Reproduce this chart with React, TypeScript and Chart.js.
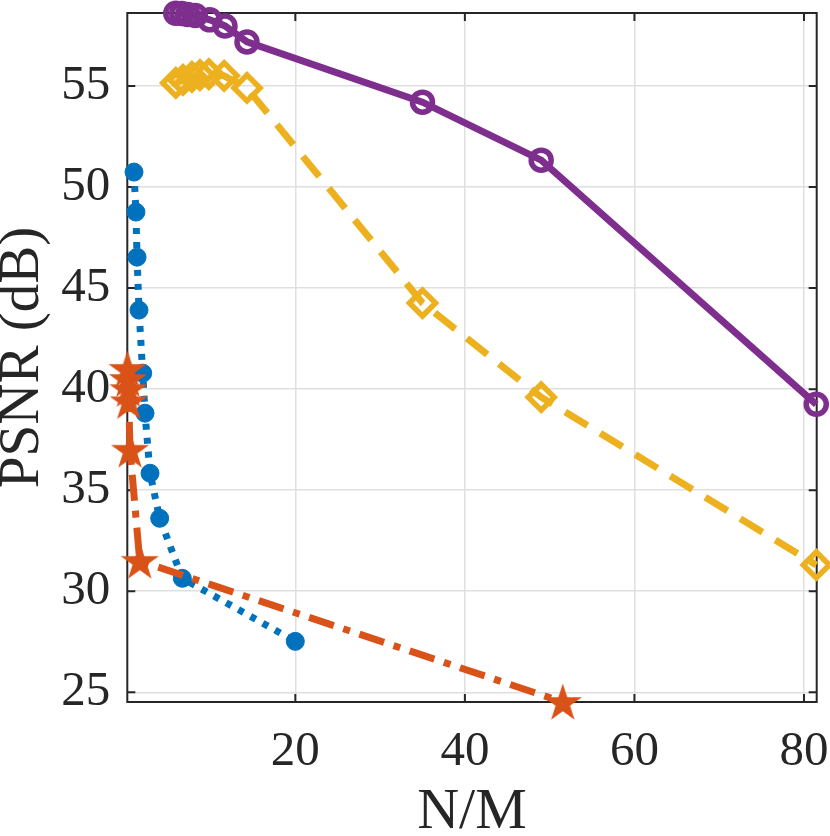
import { useEffect, useRef } from 'react';
import { Chart, registerables, type ChartConfiguration } from 'chart.js';

Chart.register(...registerables);

// axis ticks
const xTicks = [20, 40, 60, 80];
const yTicks = [25, 30, 35, 40, 45, 50, 55];

// purple series (solid, circles)
const purpleX = [5.9, 6.6, 7.3, 8.2, 9.9, 11.7, 14.3, 35.0, 49.0, 81.45];
const purpleY = [58.6, 58.58, 58.54, 58.49, 58.27, 57.97, 57.18, 54.2, 51.33, 39.25];

// yellow series (dashed, diamonds)
const yellowX = [5.9, 6.75, 7.8, 8.75, 9.8, 11.6, 14.3, 35.0, 49.0, 81.45];
const yellowY = [55.15, 55.3, 55.45, 55.54, 55.59, 55.5, 54.9, 44.26, 39.6, 31.3];

// blue series (dotted, filled circles)
const blueX = [0.97, 1.2, 1.33, 1.56, 2.0, 2.27, 2.86, 4.0, 6.67, 20.0];
const blueY = [50.74, 48.76, 46.53, 43.91, 40.79, 38.81, 35.84, 33.61, 30.64, 27.52];

// red series (dash-dot, pentagrams)
const redX = [0.2, 0.25, 0.3, 0.35, 0.5, 1.65, 51.55];
const redY = [41.0, 40.5, 40.0, 39.4, 37.0, 31.5, 24.52];

const FONT = "'Liberation Serif', 'Times New Roman', Times, serif";
const INK = '#262626';
const GRID = '#dfdfdf';

const toPoints = (xs: number[], ys: number[]) => xs.map((x, i) => ({ x, y: ys[i] }));

function pentagram(color: string, r: number) {
  const c = document.createElement('canvas');
  const s = Math.ceil(r * 2 + 2);
  c.width = s;
  c.height = s;
  const ctx = c.getContext('2d')!;
  ctx.fillStyle = color;
  ctx.beginPath();
  for (let i = 0; i < 10; i++) {
    const rad = i % 2 === 0 ? r : r * 0.382;
    const a = -Math.PI / 2 + (i * Math.PI) / 5;
    ctx.lineTo(s / 2 + rad * Math.cos(a), s / 2 + 1.5 + rad * Math.sin(a));
  }
  ctx.closePath();
  ctx.fill();
  return c;
}

// box with inward tick marks, drawn under the data like MATLAB
const frame = {
  id: 'frame',
  beforeDatasetsDraw(chart: Chart) {
    const { ctx, chartArea: a, scales } = chart;
    const len = 8;
    ctx.save();
    ctx.strokeStyle = INK;
    ctx.lineWidth = 2;
    ctx.strokeRect(a.left, a.top, a.right - a.left, a.bottom - a.top);
    ctx.beginPath();
    xTicks.forEach((v) => {
      const px = scales.x.getPixelForValue(v);
      ctx.moveTo(px, a.bottom);
      ctx.lineTo(px, a.bottom - len);
      ctx.moveTo(px, a.top);
      ctx.lineTo(px, a.top + len);
    });
    yTicks.forEach((v) => {
      const py = scales.y.getPixelForValue(v);
      ctx.moveTo(a.left, py);
      ctx.lineTo(a.left + len, py);
      ctx.moveTo(a.right, py);
      ctx.lineTo(a.right - len, py);
    });
    ctx.stroke();
    ctx.restore();
  },
};

export default function App() {
  const canvasRef = useRef<HTMLCanvasElement>(null);
  const chartRef = useRef<Chart | null>(null);

  useEffect(() => {
    let cancelled = false;

    const build = () => {
      if (cancelled || !canvasRef.current) return;
      if (chartRef.current) chartRef.current.destroy();

      const star = pentagram('#D95319', 20);

      const config: ChartConfiguration<'scatter'> = {
        type: 'scatter',
        data: {
          datasets: [
            {
              label: 'red',
              data: toPoints(redX, redY),
              showLine: true,
              borderColor: '#D95319',
              backgroundColor: '#D95319',
              borderWidth: 7,
              borderDash: [26, 10, 7, 10],
              pointStyle: star,
              pointRadius: 20,
              clip: false,
            },
            {
              label: 'blue',
              data: toPoints(blueX, blueY),
              showLine: true,
              borderColor: '#0072BD',
              backgroundColor: '#0072BD',
              borderWidth: 7,
              borderDash: [6, 8],
              pointStyle: 'circle',
              pointRadius: 9,
              pointBorderWidth: 1,
              clip: false,
            },
            {
              label: 'yellow',
              data: toPoints(yellowX, yellowY),
              showLine: true,
              borderColor: '#EDB120',
              backgroundColor: 'rgba(0,0,0,0)',
              borderWidth: 7,
              borderDash: [26, 15],
              pointStyle: 'rectRot',
              pointRadius: 13,
              pointBorderWidth: 5.5,
              clip: false,
            },
            {
              label: 'purple',
              data: toPoints(purpleX, purpleY),
              showLine: true,
              borderColor: '#7E2F8E',
              backgroundColor: 'rgba(0,0,0,0)',
              borderWidth: 7,
              pointStyle: 'circle',
              pointRadius: 10,
              pointBorderWidth: 5.5,
              clip: false,
            },
          ],
        },
        options: {
          animation: false,
          responsive: true,
          maintainAspectRatio: false,
          layout: { autoPadding: false, padding: { top: 13, right: 13.3, left: 0, bottom: 0 } },
          plugins: {
            legend: { display: false },
            tooltip: { enabled: false },
          },
          scales: {
            x: {
              type: 'linear',
              min: 0.18,
              max: 81.5,
              afterBuildTicks: (s) => {
                s.ticks = xTicks.map((value) => ({ value }));
              },
              afterFit: (s) => {
                s.height = 134;
                s.paddingLeft = 0;
                s.paddingRight = 0;
              },
              grid: { color: GRID, lineWidth: 1.5, drawTicks: false },
              border: { display: false },
              ticks: {
                color: INK,
                padding: 21,
                maxRotation: 0,
                font: { family: FONT, size: 49 },
              },
              title: {
                display: true,
                text: 'N/M',
                color: INK,
                padding: 0,
                font: { family: FONT, size: 58, lineHeight: 0.8 },
              },
            },
            y: {
              type: 'linear',
              min: 24.52,
              max: 58.61,
              afterBuildTicks: (s) => {
                s.ticks = yTicks.map((value) => ({ value }));
              },
              afterFit: (s) => {
                s.width = 127.3;
                s.paddingTop = 0;
                s.paddingBottom = 0;
              },
              grid: { color: GRID, lineWidth: 1.5, drawTicks: false },
              border: { display: false },
              ticks: {
                color: INK,
                padding: 17,
                font: { family: FONT, size: 49 },
              },
              title: {
                display: true,
                text: 'PSNR (dB)',
                color: INK,
                padding: 0,
                font: { family: FONT, size: 57, lineHeight: 0.8 },
              },
            },
          },
        },
        plugins: [frame],
      };

      chartRef.current = new Chart(canvasRef.current, config);
    };

    document.fonts
      .load('49px "Liberation Serif"')
      .then(build, build);

    return () => {
      cancelled = true;
      if (chartRef.current) {
        chartRef.current.destroy();
        chartRef.current = null;
      }
    };
  }, []);

  return (
    <div style={{ position: 'absolute', left: 0, top: 0, width: 830, height: 836, background: '#fff' }}>
      <canvas ref={canvasRef} />
    </div>
  );
}
